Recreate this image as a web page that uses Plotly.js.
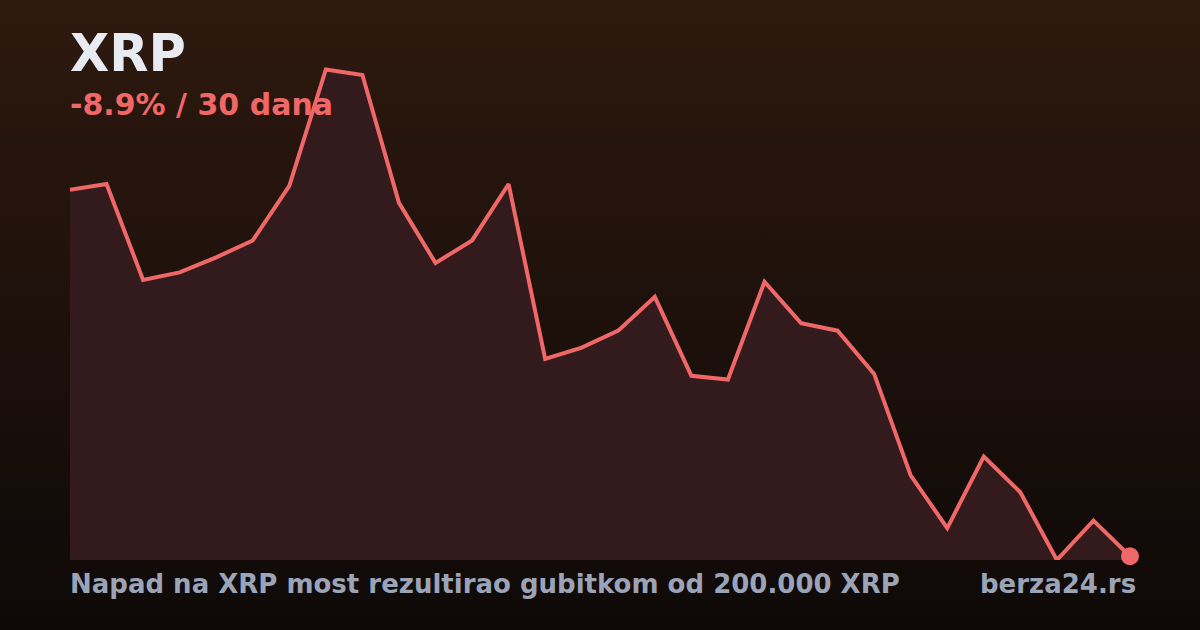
<!DOCTYPE html>
<html>
<head>
<meta charset="utf-8">
<script src="https://cdn.plot.ly/plotly-3.0.1.min.js"></script>
<style>
  html, body { margin: 0; padding: 0; }
  body {
    width: 1200px;
    height: 630px;
    background: linear-gradient(180deg, #2e190e 0%, #1c100b 55%, #0e0908 100%);
  }
  #chart { width: 1200px; height: 630px; }
</style>
</head>
<body>
<div id="chart"></div>
<script>
// 30 dnevnih cijena XRP (USD), procijenjeno sa slike
const days = Array.from({ length: 30 }, (_, i) => i);
const prices = [
  2.199, 2.202, 2.151, 2.155, 2.163, 2.172, 2.201, 2.263, 2.260, 2.192,
  2.160, 2.172, 2.202, 2.109, 2.115, 2.124, 2.142, 2.100, 2.098, 2.150,
  2.128, 2.124, 2.101, 2.047, 2.019, 2.057, 2.038, 2.002, 2.023, 2.004,
];
const symbol = "XRP";
const changeText = "-8.9% / 30 dana";
const headline = "Napad na XRP most rezultirao gubitkom od 200.000 XRP";
const source = "berza24.rs";

const lineColor = "#f06767";
const font = "DejaVu Sans, Verdana, sans-serif";

const areaTrace = {
  x: days,
  y: prices,
  type: "scatter",
  mode: "lines",
  fill: "tozeroy",
  fillcolor: "#331a1c",
  line: { color: lineColor, width: 4, shape: "linear" },
  hoverinfo: "skip",
};

const lastTrace = {
  x: [days[days.length - 1]],
  y: [prices[prices.length - 1]],
  type: "scatter",
  mode: "markers",
  marker: { color: lineColor, size: 18 },
  cliponaxis: false,
  hoverinfo: "skip",
};

const layout = {
  width: 1200,
  height: 630,
  margin: { l: 70, r: 70, t: 60, b: 70 },
  paper_bgcolor: "rgba(0,0,0,0)",
  plot_bgcolor: "rgba(0,0,0,0)",
  showlegend: false,
  xaxis: {
    range: [0, 29],
    visible: false,
    fixedrange: true,
  },
  yaxis: {
    range: [2.002, 2.268],
    visible: false,
    fixedrange: true,
  },
  annotations: [
    {
      text: "<b>" + symbol + "</b>",
      xref: "paper", yref: "paper",
      x: 0, y: 1.012, xshift: -2,
      xanchor: "left", yanchor: "middle",
      showarrow: false,
      font: { family: font, size: 51, color: "#e9ebf3" },
    },
    {
      text: "<b>" + changeText + "</b>",
      xref: "paper", yref: "paper",
      x: 0, y: 0.91, xshift: -2,
      xanchor: "left", yanchor: "middle",
      showarrow: false,
      font: { family: font, size: 30, color: lineColor },
    },
    {
      text: "<b>" + headline + "</b>",
      xref: "paper", yref: "paper",
      x: 0, y: -0.048, xshift: -2,
      xanchor: "left", yanchor: "middle",
      showarrow: false,
      font: { family: font, size: 26, color: "#9ba3b6" },
    },
    {
      text: "<b>" + source + "</b>",
      xref: "paper", yref: "paper",
      x: 1, y: -0.048, xshift: 8,
      xanchor: "right", yanchor: "middle",
      showarrow: false,
      font: { family: font, size: 26, color: "#9ba3b6" },
    },
  ],
};

Plotly.newPlot("chart", [areaTrace, lastTrace], layout, {
  staticPlot: true,
  displayModeBar: false,
});
</script>
</body>
</html>
